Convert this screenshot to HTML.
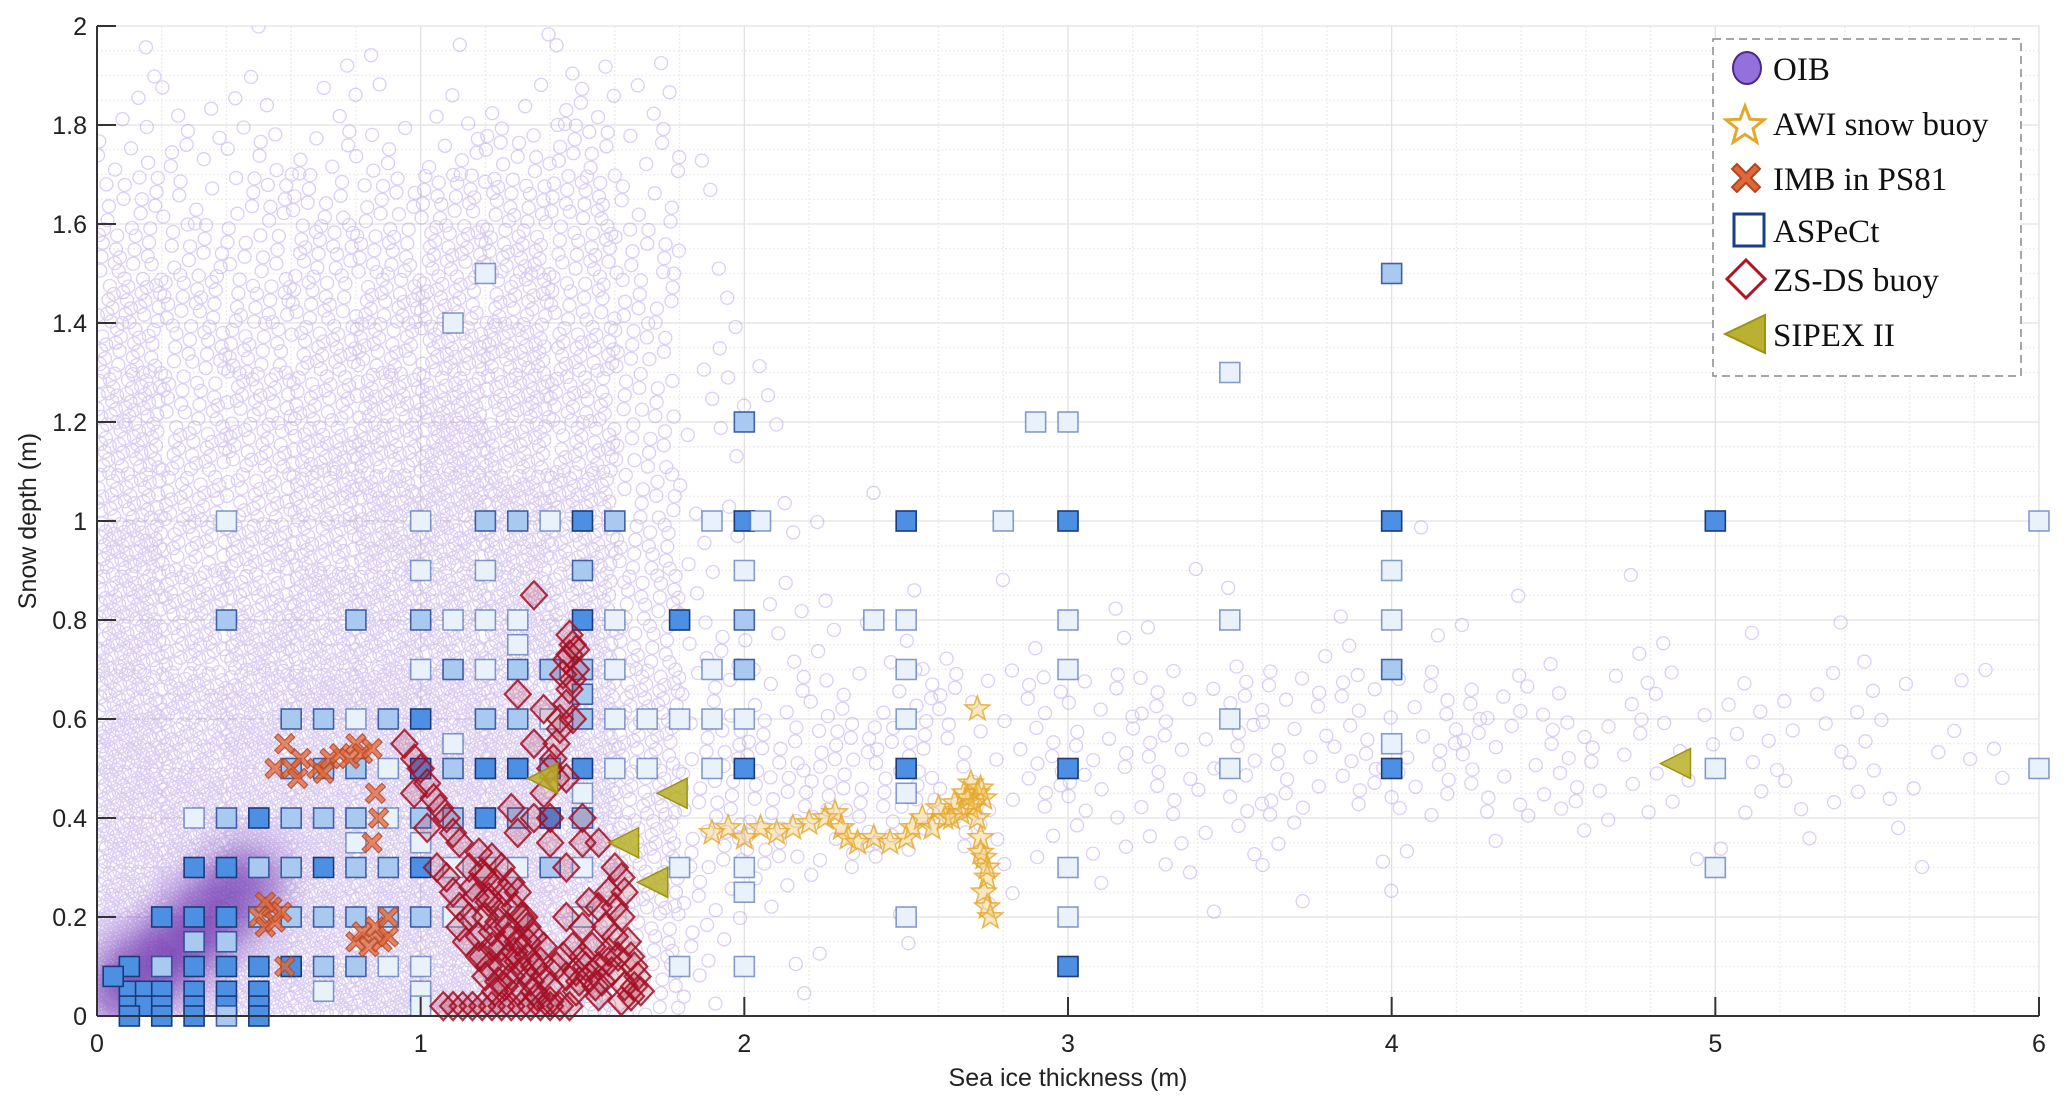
<!DOCTYPE html>
<html><head><meta charset="utf-8"><style>
html,body{margin:0;padding:0;background:#fff;}
svg{display:block;}
</style></head><body>
<svg id="chart" width="2067" height="1111" xmlns="http://www.w3.org/2000/svg" font-family="'Liberation Sans', sans-serif">
<defs><filter id="blur" x="-50%" y="-50%" width="200%" height="200%"><feGaussianBlur stdDeviation="18"/></filter>
<clipPath id="plotclip"><rect x="97" y="26" width="1942" height="990"/></clipPath></defs>
<g id="grid"></g>
<g id="oib" clip-path="url(#plotclip)"></g>
<g id="aspect"></g>
<g id="imb"></g>
<g id="zs"></g>
<g id="awi"></g>
<g id="sipex"></g>
<g id="axes"></g>
<text x="1068" y="1086" font-size="25" text-anchor="middle" fill="#222">Sea ice thickness (m)</text>
<text transform="translate(36,521) rotate(-90)" font-size="25" text-anchor="middle" fill="#222">Snow depth (m)</text>
<g>
<rect x="1713" y="39" width="308" height="337" fill="#fff" stroke="#888" stroke-width="1.5" stroke-dasharray="8,5"/>
<g><ellipse cx="1747" cy="68" rx="14" ry="16" fill="#9370db" stroke="#4b2a8a" stroke-width="2"/><text x="1773" y="80" font-family="'Liberation Serif', serif" font-size="33" fill="#111">OIB</text></g>
<g><path id="legstar" d="" fill="#fff" stroke="#e3a82a" stroke-width="3"/><text x="1773" y="135" font-family="'Liberation Serif', serif" font-size="33" fill="#111">AWI snow buoy</text></g>
<g><path id="legx" d="" fill="#e0673a" stroke="#b2451f" stroke-width="2"/><text x="1773" y="190" font-family="'Liberation Serif', serif" font-size="33" fill="#111">IMB in PS81</text></g>
<g><rect x="1734" y="214" width="30" height="32" fill="#fff" stroke="#1a3f86" stroke-width="3"/><text x="1773" y="242" font-family="'Liberation Serif', serif" font-size="33" fill="#111">ASPeCt</text></g>
<g><path d="M1746,260 L1765,279 L1746,298 L1727,279 Z" fill="#fff" stroke="#b3121f" stroke-width="3"/><text x="1773" y="291" font-family="'Liberation Serif', serif" font-size="33" fill="#111">ZS-DS buoy</text></g>
<g><path d="M1725,334 L1765,315 L1765,353 Z" fill="#bcb032" stroke="#9a9412" stroke-width="2"/><text x="1773" y="346" font-family="'Liberation Serif', serif" font-size="33" fill="#111">SIPEX II</text></g>
</g>
</svg>
<script>
// ---- data ----
// OIB density (levels 0-f) per cell: rows top-down y 2.0->0 (0.1 bins), columns x 0->6 (0.2 bins)
const oibDensityRows = [
"101111121000000000000000000000",
"222212232000000000000000000000",
"333333443100000000000000000000",
"434445553100000000000000000000",
"544556654100000000000000000000",
"655566654100000000000000000000",
"655667764210000000000000000000",
"756677764210000000000000000000",
"766778764210000000000000000000",
"766788874211000000000000000000",
"867788875211000010001000000000",
"877888875221110101010101000000",
"878888885322211111111111111100",
"888999886333333333333322222211",
"989999986444433333333333222221",
"999999986444433333333332222211",
"99ba99986443332222211111111110",
"9cc999986321111111110000000000",
"dec999985311100000000000000000",
"fc9999974210000000000000000000"
];
const aspectX = [1.2,4,1.1,3.5,2,2.9,3,0.4,1,1.2,1.3,1.4,1.5,1.6,1.9,2,2.05,2.5,2.8,3,4,5,6,1,1.2,1.5,2,4,0.4,0.8,1,1.1,1.2,1.3,1.5,1.6,1.8,2,2.4,2.5,3,3.5,4,1.3,1,1.1,1.2,1.3,1.4,1.5,1.6,2,1.9,2.5,3,4,1.5,0.6,0.7,0.8,0.9,1,1.2,1.3,1.4,1.5,1.6,1.7,1.8,1.9,2,2.5,3.5,1.1,4,0.6,0.7,0.8,0.9,1,1.1,1.2,1.3,1.4,1.5,1.6,1.7,1.9,2,2.5,3,3.5,4,5,6,1.5,2.5,0.3,0.4,0.5,0.6,0.7,0.8,0.9,1,1.1,1.2,1.3,1.4,1.5,0.8,1,0.3,0.4,0.5,0.6,0.7,0.8,0.9,1,1.1,1.2,1.3,1.4,1.5,1.8,2,3,5,2,0.2,0.3,0.4,0.5,0.6,0.7,0.8,0.9,1,1.1,1.2,1.3,1.5,2.5,3,0.3,0.4,0.1,0.2,0.3,0.4,0.5,0.6,0.7,0.8,0.9,1,1.8,2,3,0.1,0.15,0.2,0.3,0.4,0.5,0.7,1,0.05,0.1,0.15,0.2,0.3,0.4,0.5,1,0.1,0.2,0.3,0.4,0.5];
const aspectY = [1.5,1.5,1.4,1.3,1.2,1.2,1.2,1,1,1,1,1,1,1,1,1,1,1,1,1,1,1,1,0.9,0.9,0.9,0.9,0.9,0.8,0.8,0.8,0.8,0.8,0.8,0.8,0.8,0.8,0.8,0.8,0.8,0.8,0.8,0.8,0.75,0.7,0.7,0.7,0.7,0.7,0.7,0.7,0.7,0.7,0.7,0.7,0.7,0.65,0.6,0.6,0.6,0.6,0.6,0.6,0.6,0.6,0.6,0.6,0.6,0.6,0.6,0.6,0.6,0.6,0.55,0.55,0.5,0.5,0.5,0.5,0.5,0.5,0.5,0.5,0.5,0.5,0.5,0.5,0.5,0.5,0.5,0.5,0.5,0.5,0.5,0.5,0.45,0.45,0.4,0.4,0.4,0.4,0.4,0.4,0.4,0.4,0.4,0.4,0.4,0.4,0.4,0.35,0.35,0.3,0.3,0.3,0.3,0.3,0.3,0.3,0.3,0.3,0.3,0.3,0.3,0.3,0.3,0.3,0.3,0.3,0.25,0.2,0.2,0.2,0.2,0.2,0.2,0.2,0.2,0.2,0.2,0.2,0.2,0.2,0.2,0.2,0.15,0.15,0.1,0.1,0.1,0.1,0.1,0.1,0.1,0.1,0.1,0.1,0.1,0.1,0.1,0.05,0.05,0.05,0.05,0.05,0.05,0.05,0.05,0.08,0.02,0.02,0.02,0.02,0.02,0.02,0.02,0,0,0,0,0];
// fill level per square: 0 light, 1 medium, 2 dark
const aspectLevel = [0,1,0,0,1,0,0,0,0,1,1,0,2,1,0,2,0,2,0,2,2,2,0,0,0,1,0,0,1,1,1,0,0,0,2,0,2,1,0,0,0,0,0,0,0,1,0,1,1,1,0,1,0,0,0,1,1,1,1,0,1,2,1,1,0,1,0,0,0,0,0,0,0,0,0,1,1,1,0,2,1,2,2,1,2,0,0,0,2,2,2,0,2,0,0,0,0,0,1,2,1,1,1,0,1,1,2,1,2,1,0,0,2,2,1,1,2,1,1,2,0,0,0,1,0,0,0,0,0,0,2,2,2,1,1,1,1,1,1,0,0,0,0,0,0,1,1,2,1,2,2,2,2,1,1,0,0,0,0,2,2,2,2,2,2,2,0,0,2,2,2,2,2,2,2,0,2,2,2,1,2];
const zsX = [1.07,1.1,1.13,1.16,1.19,1.22,1.25,1.28,1.31,1.34,1.37,1.40,1.43,1.46,1.15,1.18,1.2,1.22,1.25,1.28,1.3,1.17,1.2,1.24,1.27,1.3,1.33,1.35,1.38,1.4,1.22,1.25,1.28,1.18,1.15,1.12,1.1,1.08,1.05,1.32,1.35,1.38,1.42,1.45,1.2,1.23,1.3,1.35,1.4,1.48,1.52,1.55,1.58,1.6,1.62,1.58,1.55,1.5,1.47,1.45,1.62,1.6,1.65,1.67,1.68,1.65,1.63,1.55,1.4,1.4,1.38,1.4,1.42,1.43,1.45,1.47,1.45,1.47,1.46,1.48,1.35,1.38,1.3,1.35,1.42,1.35,1.3,1.28,0.95,0.98,1.0,1.02,1.04,1.06,1.08,1.1,1.12,0.98,1.02,1.45,1.5,1.5,1.55,1.45,
1.16,1.19,1.21,1.23,1.26,1.29,1.31,1.33,1.19,1.22,1.25,1.27,1.24,1.21,1.26,1.29,1.32,1.34,1.37,1.36,1.33,1.3,1.27,1.24,1.21,1.18,1.14,1.12,1.5,1.53,1.56,1.59,1.61,1.64,1.66,1.57,1.54,1.51,1.49,1.6,1.63,1.66,1.62,1.58,1.52,1.48,1.44,1.46,1.44,1.46,1.48,1.43,1.41,1.47];
const zsY = [0.02,0.02,0.02,0.02,0.02,0.02,0.02,0.02,0.02,0.02,0.02,0.02,0.02,0.02,0.30,0.33,0.28,0.32,0.30,0.27,0.25,0.24,0.2,0.22,0.18,0.15,0.12,0.1,0.08,0.06,0.14,0.1,0.08,0.16,0.2,0.22,0.25,0.28,0.3,0.2,0.16,0.14,0.1,0.08,0.08,0.05,0.05,0.05,0.03,0.05,0.08,0.1,0.13,0.16,0.2,0.25,0.22,0.18,0.14,0.2,0.28,0.3,0.12,0.08,0.05,0.04,0.06,0.04,0.35,0.4,0.45,0.5,0.55,0.6,0.63,0.68,0.72,0.75,0.77,0.7,0.85,0.62,0.65,0.55,0.48,0.4,0.37,0.42,0.55,0.52,0.5,0.47,0.44,0.42,0.4,0.37,0.35,0.45,0.38,0.48,0.4,0.35,0.35,0.3,
0.26,0.29,0.24,0.27,0.25,0.22,0.2,0.18,0.12,0.17,0.14,0.12,0.07,0.1,0.06,0.13,0.09,0.07,0.11,0.04,0.15,0.11,0.16,0.19,0.23,0.12,0.15,0.18,0.12,0.14,0.07,0.09,0.12,0.15,0.1,0.18,0.06,0.1,0.07,0.22,0.25,0.06,0.03,0.11,0.23,0.09,0.12,0.66,0.69,0.73,0.74,0.58,0.52,0.6];
const awiX = [1.9,1.95,2.0,2.05,2.1,2.15,2.2,2.25,2.28,2.3,2.32,2.35,2.4,2.45,2.5,2.52,2.55,2.58,2.6,2.62,2.65,2.68,2.7,2.72,2.7,2.74,2.72,2.73,2.74,2.75,2.74,2.75,2.76,2.75,2.73,2.72,2.69,2.71,2.73,2.67,2.64];
const awiY = [0.37,0.38,0.36,0.38,0.37,0.38,0.39,0.4,0.41,0.38,0.36,0.35,0.36,0.35,0.36,0.38,0.4,0.38,0.42,0.4,0.43,0.45,0.47,0.45,0.42,0.44,0.4,0.36,0.32,0.28,0.25,0.22,0.2,0.3,0.33,0.62,0.44,0.43,0.46,0.41,0.4];
const imbX = [0.55,0.6,0.63,0.68,0.72,0.75,0.78,0.8,0.82,0.85,0.58,0.62,0.7,0.5,0.52,0.54,0.55,0.57,0.52,0.58,0.8,0.82,0.84,0.86,0.88,0.9,0.85,0.87,0.86,0.9];
const imbY = [0.5,0.5,0.52,0.5,0.52,0.53,0.52,0.55,0.53,0.54,0.55,0.48,0.49,0.2,0.18,0.22,0.19,0.21,0.23,0.1,0.15,0.17,0.14,0.18,0.15,0.2,0.35,0.4,0.45,0.16];
const sipexX = [1.38,1.78,1.63,1.72,4.88];
const sipexY = [0.48,0.45,0.35,0.27,0.51];
const xTicks = [0,1,2,3,4,5,6];
const yTicks = [0,0.2,0.4,0.6,0.8,1,1.2,1.4,1.6,1.8,2];
// OIB density core (centre thickness, centre depth) along the diagonal
const coreX = [0.06,0.15,0.25,0.35,0.45];
const coreY = [0.05,0.09,0.14,0.2,0.27];

// ---- scales ----
const L=97,R=2039,T=26,B=1016;
const X=v=>L+v*(R-L)/6;
const Y=v=>B-v*(B-T)/2;
const NS='http://www.w3.org/2000/svg';
function mk(tag,parent,attrs){const e=document.createElementNS(NS,tag);for(const k in attrs)e.setAttribute(k,attrs[k]);parent.appendChild(e);return e;}

// grid
const g=document.getElementById('grid');
for(let i=0;i<=30;i++){const v=i*0.2;const e=mk('line',g,{x1:X(v),x2:X(v),y1:T,y2:B,stroke:i%5===0?'#e2e2e2':'#ececec','stroke-width':1.3,'stroke-dasharray':i%5===0?'':'2,2'});

}
for(let i=0;i<=40;i++){const v=i*0.05;const e=mk('line',g,{x1:L,x2:R,y1:Y(v),y2:Y(v),stroke:i%4===0?'#e2e2e2':'#ececec','stroke-width':1.3,'stroke-dasharray':i%4===0?'':'2,2'});

}

// OIB
const og=document.getElementById('oib');
let paths='';
oibDensityRows.forEach((row,ri)=>{
  const y0=2-(ri+1)*0.1;
  for(let ci=0;ci<row.length;ci++){
    const d=parseInt(row[ci],16);
    const n=Math.round(d*d*0.7);
    const x0=ci*0.2;
    for(let k=0;k<n;k++){
      const fx=((k+1)*0.7548776662+ci*0.37+ri*0.13)%1;
      const fy=((k+1)*0.5698402910+ci*0.21+ri*0.41)%1;
      const cx=X(x0+fx*0.2), cy=Y(y0+fy*0.1);
      paths+=`M${(cx+6.5).toFixed(1)},${cy.toFixed(1)}a6.5,6.5 0 1,0 -13,0a6.5,6.5 0 1,0 13,0`;
    }
  }
});
const op=mk('path',og,{d:paths,fill:'none',stroke:'rgba(140,95,215,0.3)','stroke-width':1.3});


coreX.forEach((xv,i)=>{
  const e=mk('ellipse',og,{cx:X(xv),cy:Y(coreY[i]),rx:i===0?30:42,ry:i===0?30:38,fill:'rgba(95,35,165,0.55)',filter:'url(#blur)'});
  
  
});

// ASPeCt
const ag=document.getElementById('aspect');
const fills=['#e9f1fb','#a9c9f1','#4d8fe3'];
const strokes=['rgba(40,80,160,0.55)','rgba(30,65,140,0.8)','#1a3a7a'];
aspectX.forEach((xv,i)=>{const lv=aspectLevel[i]||0;
  const e=mk('rect',ag,{x:X(xv)-10,y:Y(aspectY[i])-10,width:20,height:20,fill:fills[lv],stroke:strokes[lv],'stroke-width':1.6});
  
  });

// IMB crosses
function xPath(cx,cy,s){const a=s*0.35;return `M${cx-s},${cy-s+a}L${cx-s+a},${cy-s}L${cx},${cy-a}L${cx+s-a},${cy-s}L${cx+s},${cy-s+a}L${cx+a},${cy}L${cx+s},${cy+s-a}L${cx+s-a},${cy+s}L${cx},${cy+a}L${cx-s+a},${cy+s}L${cx-s},${cy+s-a}L${cx-a},${cy}Z`;}
const ig=document.getElementById('imb');
imbX.forEach((xv,i)=>{const e=mk('path',ig,{d:xPath(X(xv),Y(imbY[i]),10),fill:'rgba(224,103,58,0.75)',stroke:'rgba(178,69,31,0.8)','stroke-width':1.2});
  
  });
document.getElementById('legx').setAttribute('d',xPath(1746,178,14));

// ZS-DS diamonds
const zg=document.getElementById('zs');
zsX.forEach((xv,i)=>{const cx=X(xv),cy=Y(zsY[i]);
  const e=mk('path',zg,{d:`M${cx},${cy-14}L${cx+13},${cy}L${cx},${cy+14}L${cx-13},${cy}Z`,fill:'rgba(165,15,37,0.18)',stroke:'rgba(165,15,37,0.85)','stroke-width':2.2});
  
  });

// AWI stars
function starPath(cx,cy,r){let s='';for(let k=0;k<10;k++){const rr=k%2?r*0.42:r;const a=-Math.PI/2+k*Math.PI/5;s+=(k?'L':'M')+(cx+rr*Math.cos(a)).toFixed(1)+','+(cy+rr*Math.sin(a)).toFixed(1);}return s+'Z';}
const wg=document.getElementById('awi');
awiX.forEach((xv,i)=>{const e=mk('path',wg,{d:starPath(X(xv),Y(awiY[i]),13),fill:'rgba(240,190,80,0.35)',stroke:'rgba(227,168,42,0.8)','stroke-width':1.6});
  
  });
document.getElementById('legstar').setAttribute('d',starPath(1745,126,20));

// SIPEX triangles
const sg=document.getElementById('sipex');
sipexX.forEach((xv,i)=>{const cx=X(xv),cy=Y(sipexY[i]);
  const e=mk('path',sg,{d:`M${cx-16},${cy}L${cx+14},${cy-15}L${cx+14},${cy+15}Z`,fill:'rgba(184,176,40,0.85)',stroke:'#9a9412','stroke-width':1.5});
  
  });

// axes
const ax=document.getElementById('axes');
mk('line',ax,{x1:L,x2:L,y1:T,y2:B,stroke:'#333','stroke-width':2});
mk('line',ax,{x1:L,x2:R,y1:B,y2:B,stroke:'#333','stroke-width':2});
xTicks.forEach(v=>{mk('line',ax,{x1:X(v),x2:X(v),y1:B,y2:B-19,stroke:'#333','stroke-width':2});
  const t=mk('text',ax,{x:X(v),y:B+36,'font-size':25,'text-anchor':'middle',fill:'#222'});t.textContent=v;
  
  });
yTicks.forEach(v=>{mk('line',ax,{x1:L,x2:L+19,y1:Y(v),y2:Y(v),stroke:'#333','stroke-width':2});
  const t=mk('text',ax,{x:87,y:Y(v)+9,'font-size':25,'text-anchor':'end',fill:'#222'});t.textContent=v;
  
  });
</script>
</body></html>
